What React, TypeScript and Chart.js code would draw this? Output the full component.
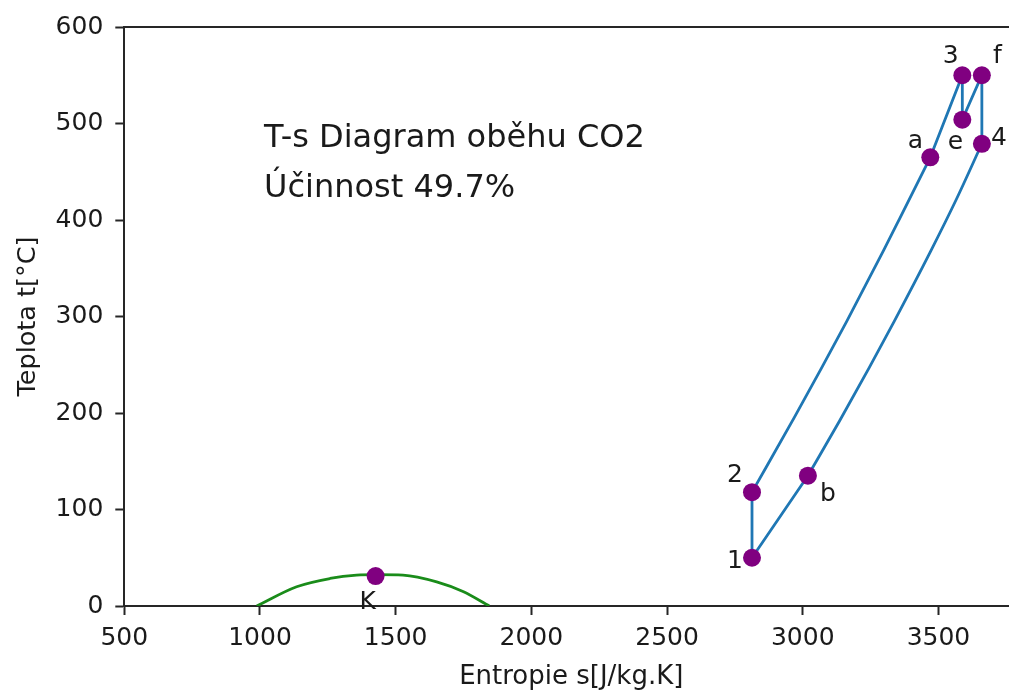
import React, { useEffect, useRef } from 'react';
import { Chart, registerables } from 'chart.js';

Chart.register(...registerables);

// ---- data ----
// heating branch 2 -> a (high pressure)
const upperS = [2813, 2968, 3070, 3162, 3297, 3358, 3470];
const upperT = [118, 195, 247, 295, 368, 402, 465];
// cooling branch b -> 4 (low pressure), listed with rising entropy
const lowerS = [3019, 3136, 3245, 3337, 3472, 3567, 3660];
const lowerT = [135, 192, 247, 295, 368, 422, 479];
// straight parts of the cycle: a-3-e-f-4, b-1-2 (null = gap)
const straightS = [3470, 3588, 3588, 3660, 3660, null, 3019, 2813, 2813];
const straightT = [465, 550, 504, 550, 479, null, 135, 50, 118];

const domeS = [988, 1135, 1258, 1356, 1430, 1527, 1651, 1748, 1845];
const domeT = [0, 20, 28.5, 32, 32.5, 32, 25, 15, 0];

const pointNames = ['1', '2', 'a', '3', 'e', 'f', '4', 'b', 'K'];
const pointS = [2813, 2813, 3470, 3588, 3588, 3660, 3660, 3019, 1426];
const pointT = [50, 118, 465, 550, 504, 550, 479, 135, 31];

const xTickValues = [500, 1000, 1500, 2000, 2500, 3000, 3500];
const yTickValues = [0, 100, 200, 300, 400, 500, 600];

const annotationLines = ['T-s Diagram oběhu CO2', 'Účinnost 49.7%'];
const xTitle = 'Entropie s[J/kg.K]';
const yTitle = 'Teplota t[°C]';

// ---- styling ----
const X_MIN = 500;
const X_MAX = 3760; // visible part (the axes continue past the crop)
const X_FULL_MAX = 3794; // full axis extent, used to centre the x title
const Y_MIN = 0;
const Y_MAX = 600;
const AXIS_COLOR = '#262626';
const TEXT_COLOR = '#1a1a1a';
const BLUE = '#1f77b4';
const FONT = '"DejaVu Sans", sans-serif';
const TICK_FONT = 25;
const X_TITLE_FONT = 26;
const Y_TITLE_FONT = 25.5;
const LABEL_FONT = 25;
const ANNOT_FONT = 32;
const ANNOT_S = 1015;
const ANNOT_T = 424;
const ANNOT_LINE_GAP = 50;
const X_TITLE_BASELINE_OFFSET = 77.5;
const CANVAS_W = 1018;
const CANVAS_H = 693;
const LABEL_OFFSETS: Record<string, [number, number]> = {
  '1': [-17, 10],
  '2': [-17, -10],
  a: [-15, -9],
  '3': [-11.5, -12],
  e: [-7, 29],
  f: [15.5, -12],
  '4': [17, 1],
  b: [20, 25],
  K: [-8, 33],
};

const toXY = (xs: (number | null)[], ys: (number | null)[]) =>
  xs.map((s, i) => (s === null ? { x: null, y: null } : { x: s, y: ys[i] }));

const overlayPlugin = {
  id: 'overlay',
  afterDatasetsDraw(chart: any) {
    const { ctx, chartArea, scales } = chart;
    const x = scales.x;
    const y = scales.y;
    ctx.save();
    // top spine
    ctx.strokeStyle = AXIS_COLOR;
    ctx.lineWidth = 2;
    ctx.beginPath();
    ctx.moveTo(chartArea.left - 1, chartArea.top);
    ctx.lineTo(x.getPixelForValue(X_FULL_MAX), chartArea.top);
    ctx.stroke();

    ctx.fillStyle = TEXT_COLOR;
    ctx.font = `${LABEL_FONT}px ${FONT}`;
    ctx.textAlign = 'center';
    ctx.textBaseline = 'alphabetic';
    pointNames.forEach((n, i) => {
      const px = x.getPixelForValue(pointS[i]);
      const py = y.getPixelForValue(pointT[i]);
      const [dx, dy] = LABEL_OFFSETS[n];
      ctx.fillText(n, px + dx, py + dy);
    });

    // x axis title, centred on the full axis extent
    ctx.font = `${X_TITLE_FONT}px ${FONT}`;
    const cx = (chartArea.left + x.getPixelForValue(X_FULL_MAX)) / 2;
    ctx.fillText(xTitle, cx, chartArea.bottom + X_TITLE_BASELINE_OFFSET);

    ctx.font = `${ANNOT_FONT}px ${FONT}`;
    ctx.textAlign = 'left';
    const ax = x.getPixelForValue(ANNOT_S);
    const ay = y.getPixelForValue(ANNOT_T);
    annotationLines.forEach((line, i) => {
      ctx.fillText(line, ax, ay - (annotationLines.length - 1 - i) * ANNOT_LINE_GAP);
    });
    ctx.restore();
  },
};

const lineStyle = (color: string) => ({
  borderColor: color,
  borderWidth: 2.8,
  pointRadius: 0,
  pointHoverRadius: 0,
  fill: false,
  order: 2,
});

export default function App() {
  const canvasRef = useRef<HTMLCanvasElement | null>(null);

  useEffect(() => {
    const canvas = canvasRef.current;
    if (!canvas) return;
    Chart.defaults.font.family = FONT;

    const chart = new Chart(canvas, {
      type: 'line',
      data: {
        datasets: [
          {
            label: 'points',
            data: toXY(pointS, pointT),
            showLine: false,
            pointRadius: 9,
            pointHoverRadius: 9,
            pointBackgroundColor: '#800080',
            pointBorderColor: '#800080',
            pointBorderWidth: 0,
            order: 0,
          },
          {
            label: 'upper',
            data: toXY(upperS, upperT),
            cubicInterpolationMode: 'monotone',
            ...lineStyle(BLUE),
          },
          {
            label: 'lower',
            data: toXY(lowerS, lowerT),
            cubicInterpolationMode: 'monotone',
            ...lineStyle(BLUE),
          },
          {
            label: 'straight',
            data: toXY(straightS, straightT),
            tension: 0,
            spanGaps: false,
            ...lineStyle(BLUE),
          },
          {
            label: 'dome',
            data: toXY(domeS, domeT),
            cubicInterpolationMode: 'monotone',
            ...lineStyle('#1a8c1a'),
          },
        ],
      },
      options: {
        animation: false,
        responsive: false,
        maintainAspectRatio: false,
        devicePixelRatio: 1,
        events: [],
        parsing: false,
        normalized: true,
        layout: { padding: { top: 24.7, left: 0, right: 0, bottom: 0 } },
        plugins: {
          legend: { display: false },
          tooltip: { enabled: false },
        },
        scales: {
          x: {
            type: 'linear',
            min: X_MIN,
            max: X_MAX,
            afterBuildTicks: (scale: any) => {
              scale.ticks = xTickValues.map((v) => ({ value: v }));
            },
            afterFit: (scale: any) => {
              scale.height = 87;
              scale.paddingLeft = 0;
              scale.paddingRight = 0;
            },
            ticks: {
              callback: (v: any) => String(v),
              font: { size: TICK_FONT },
              color: TEXT_COLOR,
              padding: 8,
              maxRotation: 0,
              autoSkip: false,
            },
            grid: {
              display: true,
              drawOnChartArea: false,
              drawTicks: true,
              tickLength: 9,
              tickWidth: 2,
              tickColor: AXIS_COLOR,
            },
            border: { display: true, color: AXIS_COLOR, width: 2 },
            title: { display: false },
          },
          y: {
            type: 'linear',
            min: Y_MIN,
            max: Y_MAX,
            afterBuildTicks: (scale: any) => {
              scale.ticks = yTickValues.map((v) => ({ value: v }));
            },
            afterFit: (scale: any) => {
              scale.width = 124.3;
            },
            ticks: {
              callback: (v: any) => String(v),
              font: { size: TICK_FONT },
              color: TEXT_COLOR,
              padding: 12,
              autoSkip: false,
            },
            grid: {
              display: true,
              drawOnChartArea: false,
              drawTicks: true,
              tickLength: 9,
              tickWidth: 2,
              tickColor: AXIS_COLOR,
            },
            border: { display: true, color: AXIS_COLOR, width: 2 },
            title: {
              display: true,
              text: yTitle,
              color: TEXT_COLOR,
              font: { size: Y_TITLE_FONT },
              padding: { top: 13, bottom: 0 },
            },
          },
        },
      },
      plugins: [overlayPlugin],
    } as any);

    return () => chart.destroy();
  }, []);

  return (
    <div
      style={{
        position: 'fixed',
        left: 0,
        top: 0,
        width: CANVAS_W,
        height: CANVAS_H,
        overflow: 'hidden',
        background: '#ffffff',
      }}
    >
      <canvas
        ref={canvasRef}
        width={CANVAS_W}
        height={CANVAS_H}
        style={{ display: 'block', width: CANVAS_W, height: CANVAS_H }}
      />
    </div>
  );
}
